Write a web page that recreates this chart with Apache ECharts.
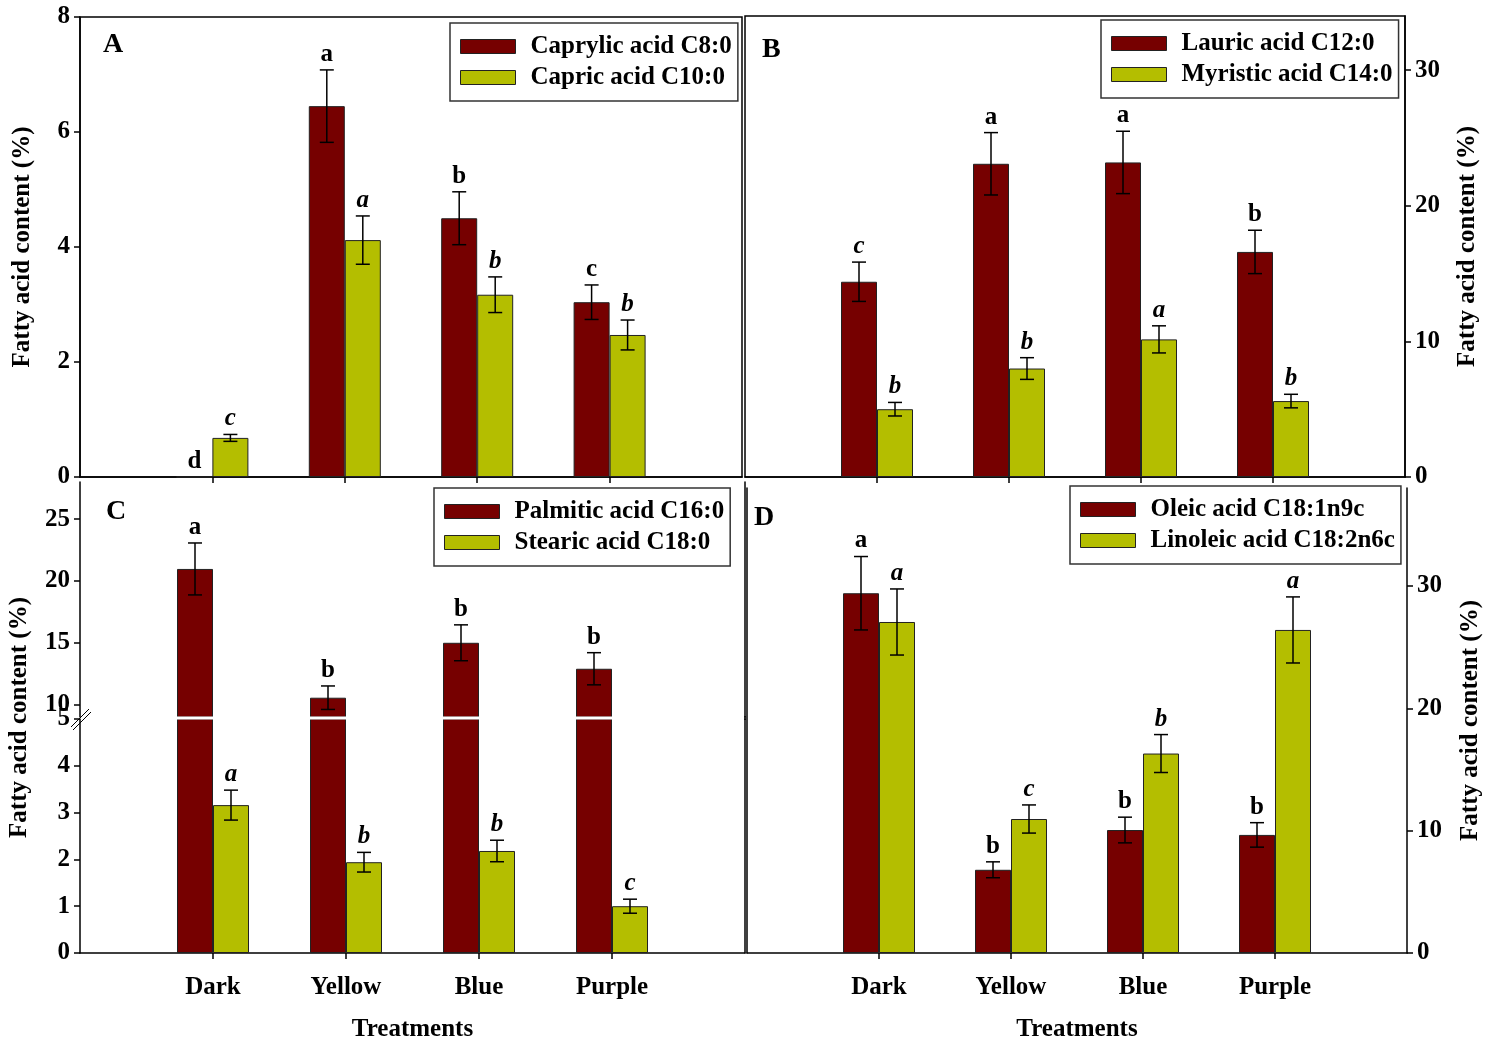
<!DOCTYPE html>
<html>
<head>
<meta charset="utf-8">
<script src="https://cdn.jsdelivr.net/npm/echarts@6/dist/echarts.min.js"></script>
<style>
html,body{margin:0;padding:0;background:#fff}
#chart{width:1498px;height:1044px}
</style>
</head>
<body>
<div id="chart"></div>
<script>
// Treatments on the x axis (placed at positions 1..4)
const treatments = ['Dark', 'Yellow', 'Blue', 'Purple'];

// Panel A
const caprylic = [0, 6.45, 4.50, 3.04];
const caprylicSE = [0, 0.63, 0.46, 0.30];
const caprylicSig = ['d', 'a', 'b', 'c'];
const capric = [0.68, 4.12, 3.17, 2.47];
const capricSE = [0.06, 0.42, 0.31, 0.26];
const capricSig = ['c', 'a', 'b', 'b'];

// Panel B
const lauric = [14.4, 23.1, 23.2, 16.6];
const lauricSE = [1.45, 2.3, 2.3, 1.6];
const lauricSig = ['c', 'a', 'a', 'b'];
const myristic = [5.0, 8.0, 10.15, 5.6];
const myristicSE = [0.5, 0.8, 1.0, 0.5];
const myristicSig = ['b', 'b', 'a', 'b'];

// Panel C
const palmitic = [20.97, 10.56, 15.0, 12.9];
const palmiticSE = [2.1, 0.95, 1.45, 1.3];
const palmiticSig = ['a', 'b', 'b', 'b'];
const stearic = [3.16, 1.94, 2.18, 1.0];
const stearicSE = [0.32, 0.21, 0.23, 0.15];
const stearicSig = ['a', 'b', 'b', 'c'];

// Panel D
const oleic = [29.4, 6.8, 10.05, 9.65];
const oleicSE = [3.0, 0.65, 1.05, 1.0];
const oleicSig = ['a', 'b', 'b', 'b'];
const linoleic = [27.05, 10.95, 16.3, 26.4];
const linoleicSE = [2.7, 1.15, 1.55, 2.7];
const linoleicSig = ['a', 'c', 'b', 'a'];

// Axis tick labels
const ticksA = [0, 2, 4, 6, 8];
const ticksB = [0, 10, 20, 30];
const ticksCUpper = [10, 15, 20, 25];
const ticksCLower = [0, 1, 2, 3, 4, 5];
const ticksD = [0, 10, 20, 30];

const FONT = '"Liberation Serif", "Times New Roman", serif';
const FS = 25;
const DARK = '#760000';
const OLIVE = '#b4be00';
const BAR_W = 36;
const AXIS_COLOR = '#000';
const TITLE = 'Fatty acid content (%)';
const centers = treatments.map((_, i) => i + 1);

const chart = echarts.init(document.getElementById('chart'), null, {renderer: 'canvas'});

function barSeries(name, values, color, gi) {
  return {
    type: 'bar', name, xAxisIndex: gi, yAxisIndex: gi,
    data: values.map((v, i) => [i + 1, v]),
    barWidth: BAR_W, barGap: '0%', clip: true,
    itemStyle: {color, borderColor: '#222', borderWidth: 1},
    emphasis: {disabled: true}, animation: false, z: 2
  };
}

// Error bars with significance letters; side -1 = left bar, +1 = right bar
function errSeries(means, ses, sigs, gi, side, italic) {
  return {
    type: 'custom', xAxisIndex: gi, yAxisIndex: gi, clip: false, z: 5,
    silent: true, animation: false,
    data: means.map((m, i) => [i + 1, m - ses[i], m + ses[i]]),
    renderItem(params, api) {
      const xv = api.value(0), lo = api.value(1), hi = api.value(2);
      const pTop = api.coord([xv, hi]);
      const pBot = api.coord([xv, lo]);
      const x = pTop[0] + side * BAR_W / 2;
      const children = [];
      const ls = {stroke: '#000', lineWidth: 1.5};
      if (hi > lo) {
        children.push({type: 'line', shape: {x1: x, y1: pTop[1], x2: x, y2: pBot[1]}, style: ls});
        children.push({type: 'line', shape: {x1: x - 7, y1: pTop[1], x2: x + 7, y2: pTop[1]}, style: ls});
        children.push({type: 'line', shape: {x1: x - 7, y1: pBot[1], x2: x + 7, y2: pBot[1]}, style: ls});
      }
      const it = italic[params.dataIndex];
      children.push({
        type: 'text',
        style: {
          text: sigs[params.dataIndex], x: x, y: pTop[1] - 3,
          align: 'center', verticalAlign: 'bottom',
          font: (it ? 'italic ' : '') + 'bold ' + FS + 'px ' + FONT, fill: '#000'
        }
      });
      return {type: 'group', children};
    }
  };
}

const lblStyle = {fontFamily: FONT, fontWeight: 'bold', fontSize: FS, color: '#000'};
const lineStyle = {color: AXIS_COLOR, width: 1.5};

function xAx(gi, withLabels, name) {
  return {
    type: 'value', gridIndex: gi, min: 0, max: 5, interval: 1,
    axisLine: {show: true, onZero: false, lineStyle},
    axisTick: {show: true, customValues: centers, length: 6, inside: false, lineStyle},
    axisLabel: withLabels ? Object.assign({
      show: true, customValues: centers, margin: 22,
      formatter: v => treatments[Math.round(v) - 1] || ''
    }, lblStyle) : {show: false},
    splitLine: {show: false},
    name: name || '', nameLocation: 'middle', nameGap: 64,
    nameTextStyle: lblStyle
  };
}

function yAx(gi, pos, min, max, ticks, name, nameGap) {
  return {
    type: 'value', gridIndex: gi, position: pos, min, max,
    axisLine: {show: true, onZero: false, lineStyle},
    axisTick: {show: ticks.length > 0, customValues: ticks, length: 6, inside: false, lineStyle},
    axisLabel: ticks.length ? Object.assign({show: true, customValues: ticks, margin: 10}, lblStyle) : {show: false},
    splitLine: {show: false},
    name: name || '', nameLocation: 'middle', nameRotate: 90, nameGap: nameGap || 0,
    nameTextStyle: lblStyle
  };
}

const legendBase = {
  orient: 'vertical', itemWidth: 55, itemHeight: 14, itemGap: 6,
  padding: [11, 6, 11, 10], borderColor: '#333', borderWidth: 1.5,
  backgroundColor: '#fff', icon: 'rect', selectedMode: false,
  itemStyle: {borderColor: '#222', borderWidth: 1},
  textStyle: Object.assign({lineHeight: 24, padding: [0, 0, 0, 10]}, lblStyle)
};

const allNormal = [false, false, false, false];
const allItalic = [true, true, true, true];

const option = {
  animation: false,
  backgroundColor: '#fff',
  grid: [
    {left: 80, top: 17, width: 662, height: 460, show: true, borderColor: '#000', borderWidth: 1.5},
    {left: 745, top: 16, width: 660, height: 461, show: true, borderColor: '#000', borderWidth: 1.5},
    {left: 80, top: 482, width: 665, height: 235},
    {left: 80, top: 719, width: 665, height: 234},
    {left: 747, top: 488, width: 660, height: 465}
  ],
  xAxis: [
    xAx(0, false),
    xAx(1, false),
    Object.assign(xAx(2, false), {axisLine: {show: false}, axisTick: {show: false}}),
    xAx(3, true, 'Treatments'),
    xAx(4, true, 'Treatments')
  ],
  yAxis: [
    yAx(0, 'left', 0, 8, ticksA, TITLE, 45),
    yAx(1, 'right', 0, 34, ticksB, TITLE, 50),
    yAx(2, 'left', 9, 28, ticksCUpper),
    yAx(3, 'left', 0, 5, ticksCLower),
    yAx(4, 'right', 0, 38, ticksD, TITLE, 51),
    // frame lines without ticks
    yAx(2, 'right', 9, 28, []),
    yAx(3, 'right', 0, 5, []),
    yAx(4, 'left', 0, 38, [])
  ],
  legend: [
    Object.assign({}, legendBase, {left: 450, top: 23, data: ['Caprylic acid C8:0', 'Capric acid C10:0']}),
    Object.assign({}, legendBase, {left: 1101, top: 20, data: ['Lauric acid C12:0', 'Myristic acid C14:0']}),
    Object.assign({}, legendBase, {left: 434, top: 488, data: ['Palmitic acid C16:0', 'Stearic acid C18:0']}),
    Object.assign({}, legendBase, {left: 1070, top: 486, data: ['Oleic acid C18:1n9c', 'Linoleic acid C18:2n6c']})
  ],
  series: [
    barSeries('Caprylic acid C8:0', caprylic, DARK, 0),
    barSeries('Capric acid C10:0', capric, OLIVE, 0),
    errSeries(caprylic, caprylicSE, caprylicSig, 0, -1, allNormal),
    errSeries(capric, capricSE, capricSig, 0, 1, allItalic),

    barSeries('Lauric acid C12:0', lauric, DARK, 1),
    barSeries('Myristic acid C14:0', myristic, OLIVE, 1),
    errSeries(lauric, lauricSE, lauricSig, 1, -1, [true, false, false, false]),
    errSeries(myristic, myristicSE, myristicSig, 1, 1, allItalic),

    barSeries('Palmitic acid C16:0', palmitic, DARK, 2),
    barSeries('Stearic acid C18:0', stearic, OLIVE, 2),
    barSeries('Palmitic acid C16:0', palmitic, DARK, 3),
    barSeries('Stearic acid C18:0', stearic, OLIVE, 3),
    errSeries(palmitic, palmiticSE, palmiticSig, 2, -1, allNormal),
    errSeries(stearic, stearicSE, stearicSig, 3, 1, allItalic),

    barSeries('Oleic acid C18:1n9c', oleic, DARK, 4),
    barSeries('Linoleic acid C18:2n6c', linoleic, OLIVE, 4),
    errSeries(oleic, oleicSE, oleicSig, 4, -1, allNormal),
    errSeries(linoleic, linoleicSE, linoleicSig, 4, 1, allItalic)
  ]
};

chart.setOption(option);

// Panel letters, shared axis title of panel C and the axis-break mark
const brk = chart.convertToPixel({gridIndex: 3}, [0, 5]);
const brkEnd = chart.convertToPixel({gridIndex: 3}, [5, 5]);
const cTop = chart.convertToPixel({gridIndex: 2}, [0, 28]);
const cBot = chart.convertToPixel({gridIndex: 3}, [0, 0]);
const letterFont = 'bold 28px ' + FONT;
const bx = brk[0], by = brk[1] - 1;
chart.setOption({
  graphic: [
    {type: 'text', left: 103, top: 31, style: {text: 'A', font: letterFont, fill: '#000'}},
    {type: 'text', left: 762, top: 36, style: {text: 'B', font: letterFont, fill: '#000'}},
    {type: 'text', left: 106, top: 498, style: {text: 'C', font: letterFont, fill: '#000'}},
    {type: 'text', left: 754, top: 504, style: {text: 'D', font: letterFont, fill: '#000'}},
    {
      type: 'text', x: 20, y: (cTop[1] + cBot[1]) / 2, rotation: Math.PI / 2,
      style: {text: TITLE, font: 'bold ' + FS + 'px ' + FONT, fill: '#000', align: 'center', verticalAlign: 'middle'}
    },
    // white gap across the broken bars
    {type: 'line', z: 3, shape: {x1: bx + 1, y1: by, x2: brkEnd[0] - 1, y2: by}, style: {stroke: '#fff', lineWidth: 3}},
    {type: 'line', z: 4, shape: {x1: brkEnd[0], y1: by - 2, x2: brkEnd[0], y2: by + 2}, style: {stroke: '#000', lineWidth: 1.5}},
    {type: 'line', z: 4, shape: {x1: bx - 9, y1: by + 9, x2: bx + 9, y2: by - 9}, style: {stroke: '#000', lineWidth: 1}},
    {type: 'line', z: 4, shape: {x1: bx - 7, y1: by + 12, x2: bx + 11, y2: by - 6}, style: {stroke: '#000', lineWidth: 1}}
  ]
});
</script>
</body>
</html>
